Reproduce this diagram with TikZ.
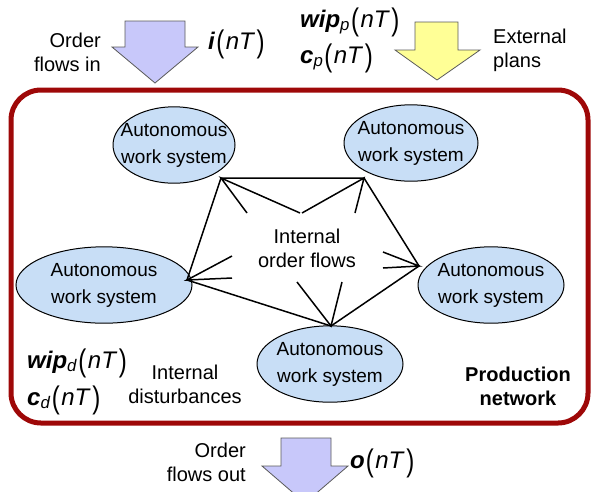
\documentclass[tikz,border=0pt]{standalone}
\usepackage{fontspec}
\setmainfont{Liberation Sans}
\usepackage{graphicx}
\usetikzlibrary{shapes.geometric}
\definecolor{framered}{RGB}{158,8,8}
\definecolor{wsblue}{RGB}{200,222,246}
\definecolor{lav}{RGB}{200,200,250}
\definecolor{pale}{RGB}{255,255,150}
\newcommand{\pL}{\kern1pt\raisebox{-0.12em}{\scalebox{1}[1.3]{(}}\kern1.5pt}
\newcommand{\pR}{\kern1.5pt\raisebox{-0.12em}{\scalebox{1}[1.3]{)}}}
\newcommand{\nTarg}{\pL\textit{nT\/}\pR}
\newcommand{\sv}[2]{\textbf{\textit{#1}}\textsubscript{\textit{#2}}\nTarg}
\newcommand{\wsl}{\makebox[0pt]{\begin{tabular}{@{}c@{}}Autonomous\\work system\end{tabular}}}
\begin{document}
\begin{tikzpicture}[x=1pt,y=-1pt,
  ws/.style={ellipse, draw=black, line width=1pt, fill=wsblue, inner sep=0pt, font=\fontsize{19}{27}\selectfont},
  txt/.style={font=\fontsize{20}{24}\selectfont, inner sep=0pt},
  mlab/.style={font=\fontsize{24}{24}\selectfont, inner sep=0pt, anchor=west},
  flow/.style={line width=1.5pt, black},
  bigarrow/.style={draw={rgb,255:red,90;green,90;blue,90}, line width=0.8pt, line join=miter}]
\useasboundingbox (0,0) rectangle (596,491);
\begin{scope}
\clip (0,0) rectangle (596,491);
% big arrows
\draw[bigarrow, fill=lav] (125,21) -- (185,21) -- (185,47) -- (198,47) -- (155,83) -- (112,47) -- (125,47) -- cycle;
\draw[bigarrow, fill=pale] (415,22) -- (458,22) -- (458,50) -- (480,50) -- (437,80) -- (395,50) -- (415,50) -- cycle;
\draw[bigarrow, fill=lav] (281,438) -- (331,438) -- (331,466) -- (348,466) -- (305,503) -- (262,466) -- (281,466) -- cycle;
\end{scope}
% frame
\draw[framered, line width=5pt, rounded corners=30pt] (11,90) rectangle (588,423);
% ellipses
\node[ws, minimum width=122pt, minimum height=76pt] (e1) at (174,145) {\wsl};
\node[ws, minimum width=134pt, minimum height=74pt] (e2) at (411,143) {\wsl};
\node[ws, minimum width=146pt, minimum height=74pt] (e3) at (491,285) {\wsl};
\node[ws, minimum width=176pt, minimum height=76pt] (e4) at (104,285) {\wsl};
\node[ws, minimum width=146pt, minimum height=76pt] (e5) at (330,364) {\wsl};
% vertices
\coordinate (TL) at (221,178);
\coordinate (TR) at (364,178);
\coordinate (R) at (419,266);
\coordinate (B) at (331,326);
\coordinate (L) at (187,280);
\coordinate (a1) at (247,213); \coordinate (a2) at (300,213);
\coordinate (b1) at (302,213); \coordinate (b2) at (355,213);
\coordinate (c1) at (383,252); \coordinate (c2) at (383,268);
\coordinate (d1) at (297,282); \coordinate (d2) at (342,282);
\coordinate (f1) at (232,256); \coordinate (f2) at (232,278);
\draw[flow] (TL) -- (TR) -- (R) -- (B) -- (L) -- cycle;
\draw[flow] (a1) -- (TL) -- (a2);
\draw[flow] (b1) -- (TR) -- (b2);
\draw[flow] (c1) -- (R) -- (c2);
\draw[flow] (d1) -- (B) -- (d2);
\draw[flow] (f1) -- (L) -- (f2);
% texts
\node[txt, align=right, anchor=east] (oin) at (101,52) {Order\\flows in};
\node[mlab] (inT) at (208,44) {\textbf{\textit{i}}\nTarg};
\node[mlab] (wipp) at (300,22) {\sv{wip}{p}};
\node[mlab] (cp) at (300,58) {\sv{c}{p}};
\node[txt, align=left, anchor=west] (ext) at (493,50) {External\\plans};
\node[txt, align=center] (iof) at (307,248) {Internal\\order flows};
\node[mlab] (wipd) at (27,363) {\sv{wip}{d}};
\node[mlab] (cd) at (27,400) {\sv{c}{d}};
\node[txt, align=center] (idist) at (185,384) {Internal\\disturbances};
\node[txt, align=center, font=\fontsize{20}{24}\selectfont\bfseries] (pn) at (518,386) {Production\\network};
\node[txt, align=right, anchor=east] (oout) at (246,462) {Order\\flows out};
\node[mlab] (onT) at (350,463) {\textbf{\textit{o}}\nTarg};
\end{tikzpicture}
\end{document}
